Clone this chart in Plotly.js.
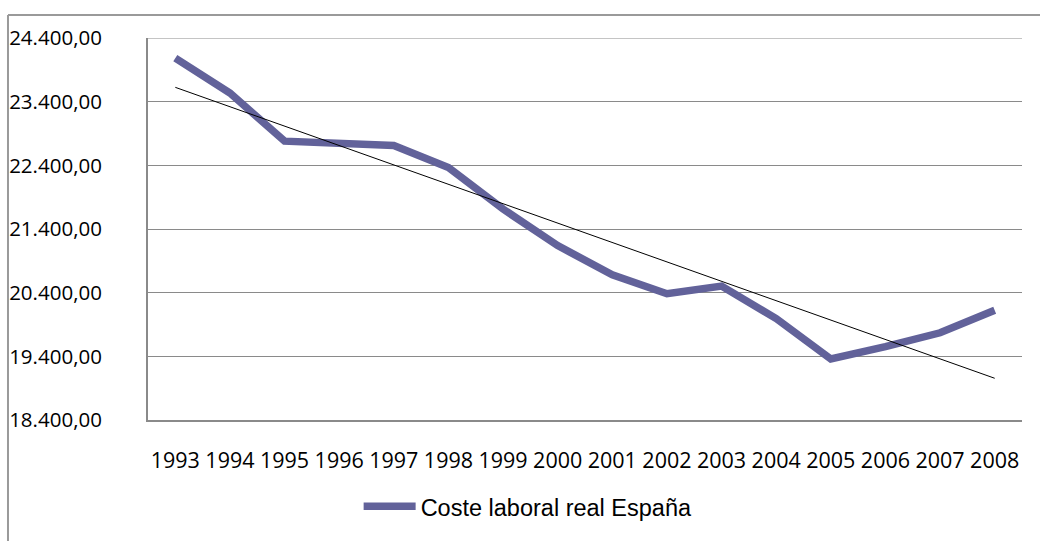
<!DOCTYPE html>
<html>
<head>
<meta charset="utf-8">
<script src="https://cdn.plot.ly/plotly-3.0.1.min.js"></script>
<style>
html,body{margin:0;padding:0;background:#fff;}
#chart{width:1040px;height:541px;}
</style>
</head>
<body>
<div id="chart"></div>
<script>
const years = ["1993","1994","1995","1996","1997","1998","1999","2000","2001","2002","2003","2004","2005","2006","2007","2008"];
const costeLaboral = [24083,23536,22780,22750,22713,22364,21713,21139,20681,20384,20504,19994,19358,19551,19770,20124];
const seriesName = "Coste laboral real España";
const yTicks = [18400,19400,20400,21400,22400,23400,24400];

// Linear trend (least squares) computed from the series
const n = costeLaboral.length;
const idx = costeLaboral.map((_, i) => i);
const mx = idx.reduce((a,b)=>a+b,0)/n;
const my = costeLaboral.reduce((a,b)=>a+b,0)/n;
let sxy = 0, sxx = 0;
for (let i = 0; i < n; i++) { sxy += (idx[i]-mx)*(costeLaboral[i]-my); sxx += (idx[i]-mx)**2; }
const slope = sxy/sxx, intercept = my - slope*mx;
const trend = idx.map(i => intercept + slope*i);

const traces = [
  {x: years, y: costeLaboral, type: 'scatter', mode: 'lines', name: seriesName,
   line: {color: '#62629a', width: 7.5}, showlegend: true},
  {x: years, y: trend, type: 'scatter', mode: 'lines', name: 'Lineal',
   line: {color: '#000000', width: 1}, showlegend: false}
];

const layout = {
  width: 1040, height: 541,
  margin: {l: 148, r: 18, t: 38, b: 119},
  paper_bgcolor: '#ffffff', plot_bgcolor: '#ffffff',
  separators: ',.',
  font: {family: '"Open Sans", sans-serif', color: '#000'},
  showlegend: true,
  legend: {orientation: 'h', x: 0.241, xanchor: 'left', y: -0.2266, yanchor: 'middle',
           itemwidth: 52,
           font: {family: '"Liberation Sans", Arial, sans-serif', size: 23.5, color: '#000'},
           bgcolor: 'rgba(0,0,0,0)'},
  xaxis: {type: 'category', range: [-0.5, years.length - 0.5], showgrid: false, zeroline: false,
          showline: true, linecolor: '#8a8a8a', linewidth: 2, ticks: '',
          tickfont: {family: '"Open Sans", sans-serif', size: 21.5, color: '#000'},
          ticklabelstandoff: 20, fixedrange: true},
  yaxis: {range: [18400, 24400], tickvals: yTicks, tickformat: ',.2f',
          showgrid: true, gridcolor: '#8a8a8a', gridwidth: 1, zeroline: false,
          showline: true, linecolor: '#8a8a8a', linewidth: 2, ticks: '',
          tickfont: {family: '"Open Sans", sans-serif', size: 20.5, color: '#000'},
          ticklabelstandoff: 40, fixedrange: true},
  shapes: [
    {type: 'line', xref: 'paper', yref: 'paper', x0: -0.1602, x1: -0.1602, y0: 1.0599, y1: -0.32,
     line: {color: '#9a9a9a', width: 2}},
    {type: 'line', xref: 'paper', yref: 'paper', x0: -0.1602, x1: 1.03, y0: 1.0599, y1: 1.0599,
     line: {color: '#9a9a9a', width: 2}},
    {type: 'line', xref: 'paper', yref: 'y', x0: 0, x1: 1, y0: 24400, y1: 24400,
     line: {color: '#8a8a8a', width: 1}}
  ]
};

Plotly.newPlot('chart', traces, layout, {displayModeBar: false, staticPlot: true});
</script>
</body>
</html>
